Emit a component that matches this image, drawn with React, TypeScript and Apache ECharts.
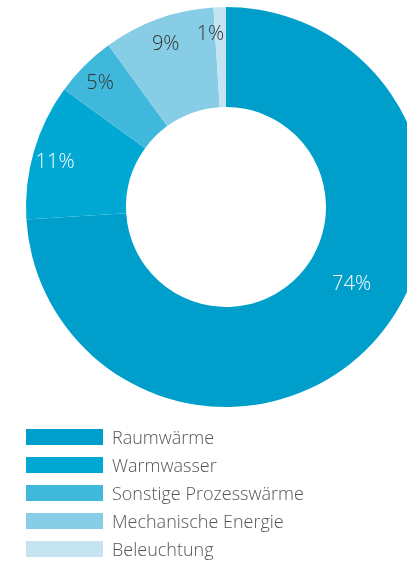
import React, { useEffect, useRef } from "react";
import * as echarts from "echarts";

const categories = ["Raumwärme", "Warmwasser", "Sonstige Prozesswärme", "Mechanische Energie", "Beleuchtung"];
const values = [74, 11, 5, 9, 1];
const colors = ["#009FCB", "#00A8D3", "#40B8DC", "#87CDE6", "#C4E4F1"];
const labelColors = ["#ffffff", "#ffffff", "#333333", "#333333", "#333333"];

const CX = 226;
const CY = 207;

export default function App() {
  const ref = useRef<HTMLDivElement>(null);
  useEffect(() => {
    if (!ref.current) return;
    const chart = echarts.init(ref.current, null, { renderer: "svg" });
    chart.setOption({
      animation: false,
      legend: {
        orient: "vertical",
        left: 26,
        top: 428,
        height: 200,
        padding: 0,
        icon: "rect",
        itemWidth: 77,
        itemHeight: 16,
        itemGap: 10,
        selectedMode: false,
        textStyle: { fontSize: 18, color: "#555", fontFamily: "Open Sans", fontWeight: 300, padding: [0, 0, 0, 4] },
        data: categories,
      },
      series: [
        {
          type: "pie",
          center: [CX, CY],
          radius: [100, 200],
          startAngle: 90,
          clockwise: true,
          label: {
            show: true,
            position: "inside",
            formatter: "{c}%",
            fontSize: 20,
            fontFamily: "Open Sans",
            fontWeight: 300,
          },
          labelLine: { show: false },
          labelLayout: (p: any) => {
            const r = p.labelRect;
            const lx = r.x + r.width / 2;
            const ly = r.y + r.height / 2;
            if (p.dataIndex === 0) return { dx: 14, dy: -29 };
            const dx = lx - CX;
            const dy = ly - CY;
            const d = Math.hypot(dx, dy) || 1;
            const extraX = p.dataIndex === 4 ? -10 : 0;
            const extraY = p.dataIndex === 2 ? 0 : 3;
            return { dx: (dx / d) * 25 + extraX, dy: (dy / d) * 25 + extraY };
          },
          emphasis: { disabled: true },
          data: categories.map((name, i) => ({
            name,
            value: values[i],
            itemStyle: { color: colors[i] },
            label: { color: labelColors[i] },
          })),
        },
      ],
    });
    return () => chart.dispose();
  }, []);
  return <div ref={ref} style={{ position: "fixed", left: 0, top: 0, width: 407, height: 566 }} />;
}
